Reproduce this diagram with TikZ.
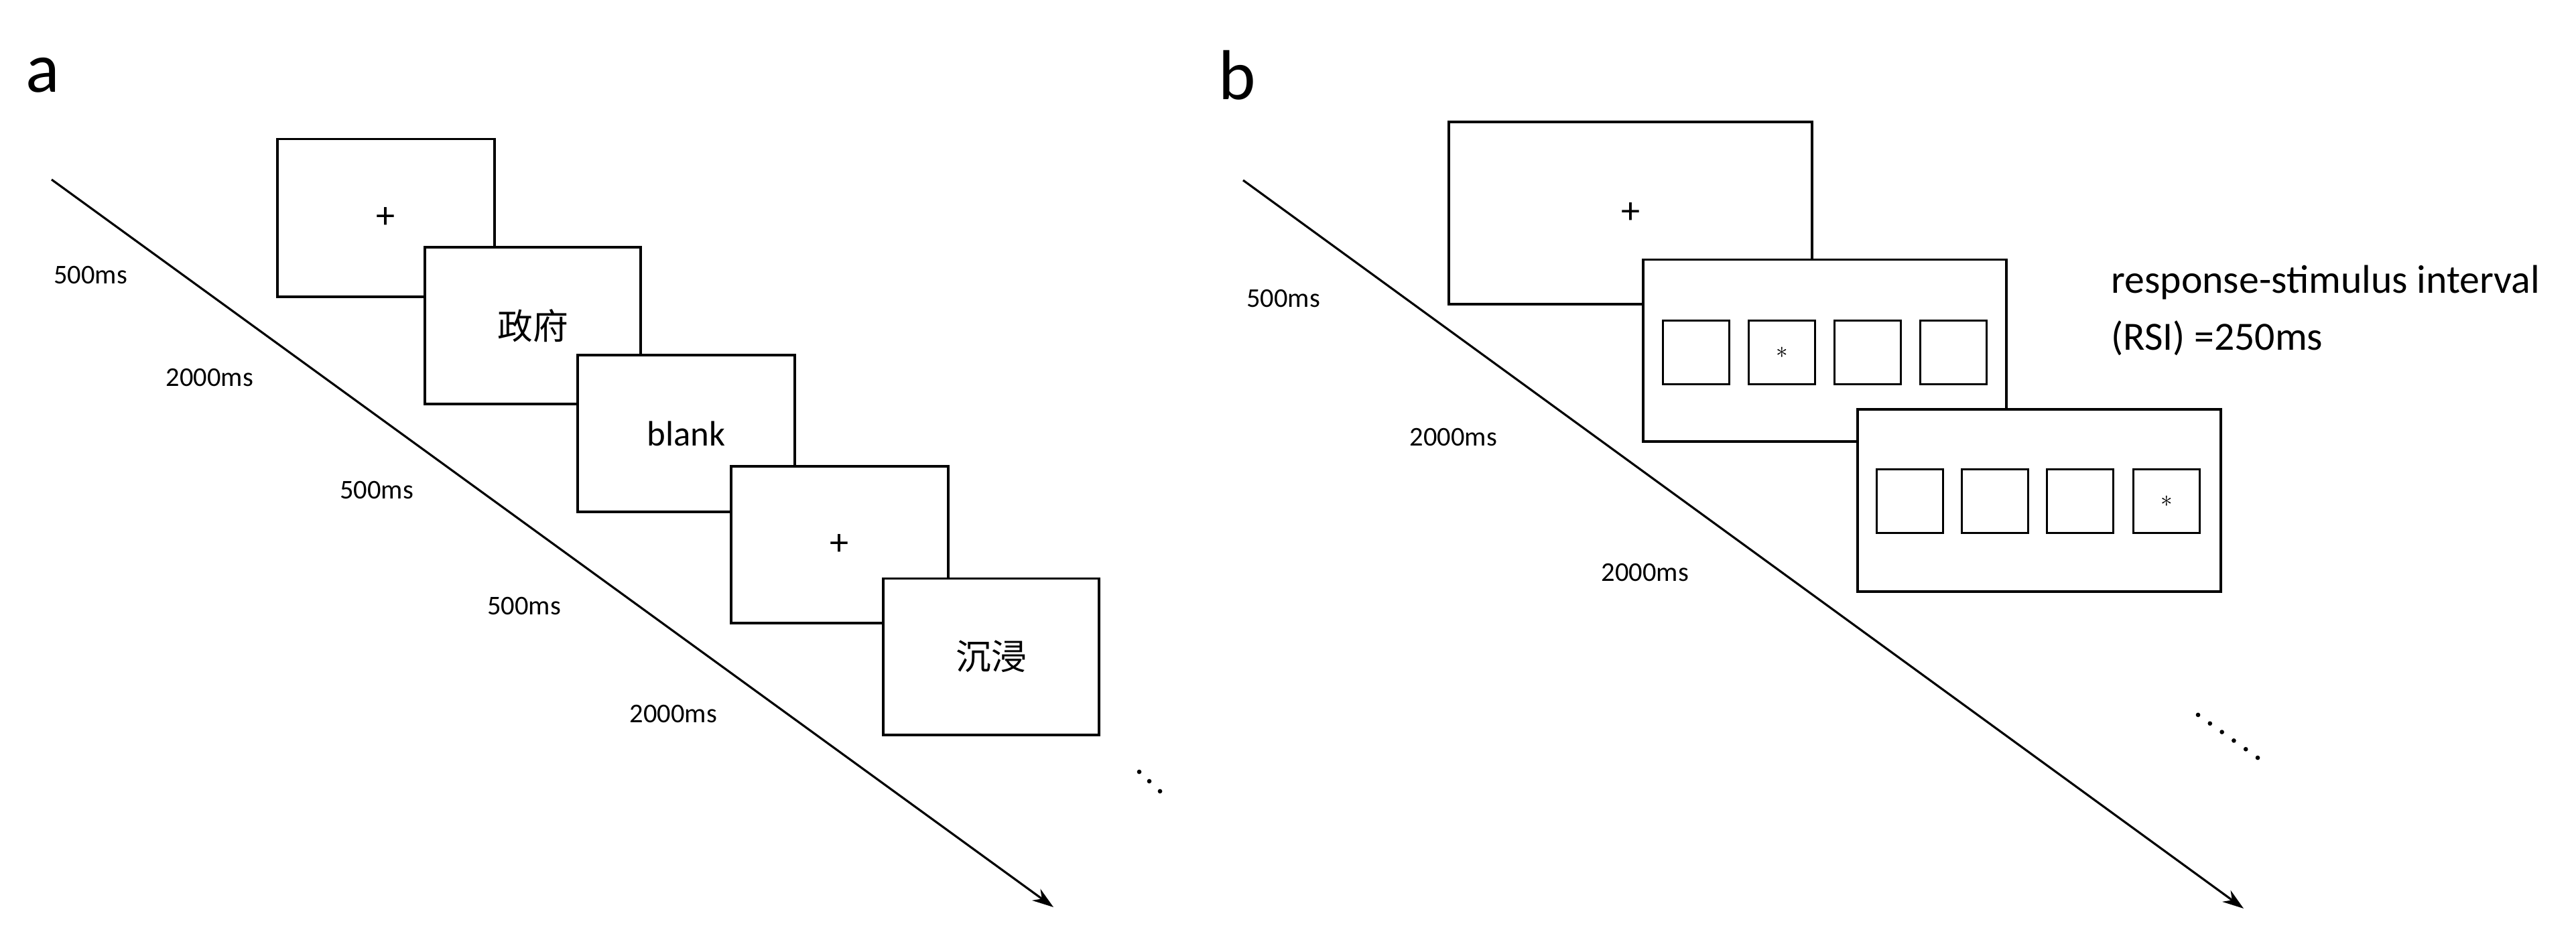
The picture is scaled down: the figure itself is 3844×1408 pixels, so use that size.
\documentclass[tikz,border=0pt]{standalone}
\usepackage{fontspec}
\setmainfont{Carlito}
\newfontfamily\cjk{Noto Sans CJK SC}
\usetikzlibrary{arrows.meta}
\begin{document}
\begin{tikzpicture}[x=0.01cm,y=-0.01cm,
  box/.style={draw,line width=1.1pt,fill=white,rectangle,inner sep=0pt},
  sq/.style={draw,line width=1pt,rectangle,inner sep=0pt,minimum width=101\pgflinewidth*0+0.99cm,minimum height=0.95cm},
  lab/.style={font=\fontsize{11.5}{13}\selectfont},
  tl/.style={line width=0.9pt,-{Stealth[length=9pt,width=6pt]}},
  dot/.style={circle,fill=black,inner sep=0pt,minimum size=1.9pt}]
\useasboundingbox (0,0) rectangle (3844,1408);
% panel a
\node[font=\fontsize{30}{32}\selectfont] (la) at (64,112) {a};
\coordinate (as) at (77,268);
\coordinate (ae) at (1572,1354);
\draw[tl] (as) -- (ae);
\node[box,minimum width=3.24cm,minimum height=2.35cm,font=\fontsize{16}{18}\selectfont] (a1) at (576,325) {+};
\node[box,minimum width=3.22cm,minimum height=2.34cm,font=\cjk\fontsize{15}{17}\selectfont] (a2) at (795,486) {政府};
\node[box,minimum width=3.23cm,minimum height=2.34cm,font=\fontsize{15}{17}\selectfont] (a3) at (1024,647) {blank};
\node[box,minimum width=3.24cm,minimum height=2.34cm,font=\fontsize{16}{18}\selectfont] (a4) at (1253,813) {+};
\node[box,minimum width=3.22cm,minimum height=2.33cm,font=\cjk\fontsize{15}{17}\selectfont] (a5) at (1479,980) {沉浸};
\node[lab] (t1) at (135,411) {500ms};
\node[lab] (t2) at (313,564) {2000ms};
\node[lab] (t3) at (562,732) {500ms};
\node[lab] (t4) at (782,905) {500ms};
\node[lab] (t5) at (1005,1066) {2000ms};
\node[dot] (d1) at (1700,1152) {};
\node[dot] (d2) at (1715,1166) {};
\node[dot] (d3) at (1731,1181) {};
% panel b
\node[font=\fontsize{30}{32}\selectfont] (lb) at (1846,112) {b};
\coordinate (bs) at (1855,269);
\coordinate (be) at (3348,1356);
\draw[tl] (bs) -- (be);
\node[box,minimum width=5.41cm,minimum height=2.72cm,font=\fontsize{16}{18}\selectfont] (b1) at (2433,318) {+};
\node[box,minimum width=5.41cm,minimum height=2.71cm] (b2) at (2723,523) {};
\node[sq] (s1) at (2531,526) {};
\node[sq] (s2) at (2659,526) {$\ast$};
\node[sq] (s3) at (2787,526) {};
\node[sq] (s4) at (2915,526) {};
\node[box,minimum width=5.41cm,minimum height=2.72cm] (b3) at (3043,747) {};
\node[sq] (r1) at (2850,748) {};
\node[sq] (r2) at (2977,748) {};
\node[sq] (r3) at (3104,748) {};
\node[sq] (r4) at (3233,748) {$\ast$};
\node[font=\fontsize{17}{24}\selectfont,align=left,anchor=north west] (rsi) at (3138,384) {response-stimulus interval\\(RSI) =250ms};
\node[lab] (u1) at (1915,446) {500ms};
\node[lab] (u2) at (2169,653) {2000ms};
\node[lab] (u3) at (2455,855) {2000ms};
\foreach \i in {0,...,5}{\node[dot] (e\i) at (3280+\i*17.8,1067+\i*12.8) {};}
\end{tikzpicture}
\end{document}
